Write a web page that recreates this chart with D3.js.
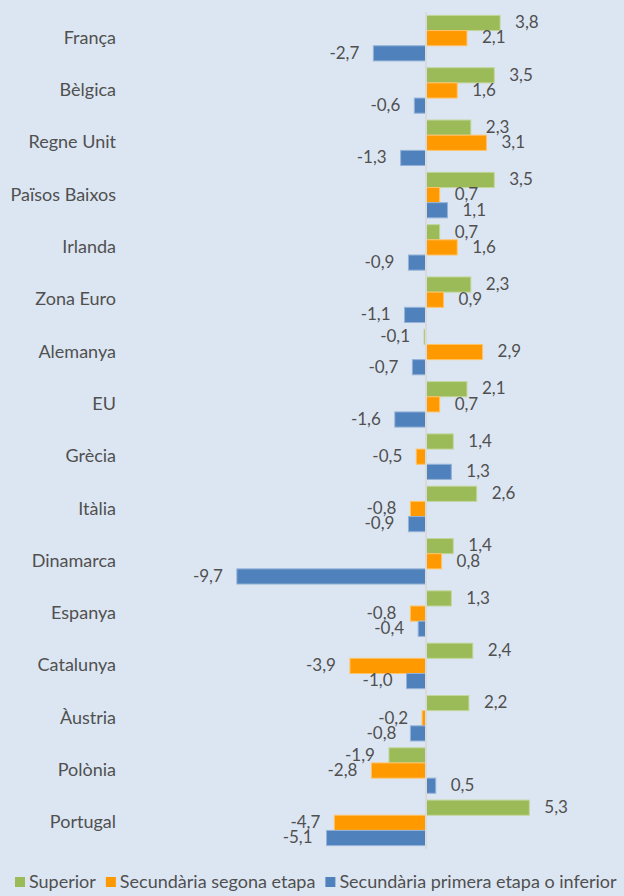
<!DOCTYPE html>
<html>
<head>
<meta charset="utf-8">
<script src="https://cdn.jsdelivr.net/npm/d3@7"></script>
<style>
  body { margin: 0; background: #dce6f2; }
  svg { display: block; font-family: Lato, "Noto Sans", sans-serif; }
</style>
</head>
<body>
<div id="chart"></div>
<script>
let countries = ['França', 'Bèlgica', 'Regne Unit', 'Països Baixos', 'Irlanda', 'Zona Euro', 'Alemanya', 'EU', 'Grècia', 'Itàlia', 'Dinamarca', 'Espanya', 'Catalunya', 'Àustria', 'Polònia', 'Portugal']
let series = ['Superior', 'Secundària segona etapa', 'Secundària primera etapa o inferior']
let superior = [3.8, 3.5, 2.3, 3.5, 0.7, 2.3, -0.1, 2.1, 1.4, 2.6, 1.4, 1.3, 2.4, 2.2, -1.9, 5.3]
let segona = [2.1, 1.6, 3.1, 0.7, 1.6, 0.9, 2.9, 0.7, -0.5, -0.8, 0.8, -0.8, -3.9, -0.2, -2.8, -4.7]
let primera = [-2.7, -0.6, -1.3, 1.1, -0.9, -1.1, -0.7, -1.6, 1.3, -0.9, -9.7, -0.4, -1.0, -0.8, 0.5, -5.1]

let colors = ['#9bbb59', '#ff9900', '#4f81bd']
let strokes = ['#c3d69b', '#ffc266', '#95b3d7']
let textColor = '#505050'

let width = 624
let height = 896

let data = []
countries.forEach((c, i) => {
  [superior, segona, primera].forEach((arr, j) => {
    data.push({ country: c, s: j, v: arr[i] })
  })
})

let svg = d3.select('#chart')
  .append('svg')
  .attr('width', width)
  .attr('height', height)

let xScale = d3.scaleLinear()
  .domain([-10, 10])
  .range([231, 621])

let yScale = d3.scaleBand()
  .domain(countries)
  .range([12, 849])
  .paddingInner(0.13)
  .paddingOuter(0.065)

let sScale = d3.scaleBand()
  .domain([0, 1, 2])
  .range([0, yScale.bandwidth()])

let fmt = v => d3.format('.1f')(v).replace('.', ',').replace('−', '-')

// noms dels països, alineats a la dreta
svg.selectAll('text.cat')
  .data(countries)
  .enter()
  .append('text')
  .attr('class', 'cat')
  .attr('x', 116)
  .attr('y', d => yScale(d) + yScale.bandwidth() / 2 + 1)
  .attr('text-anchor', 'end')
  .attr('dominant-baseline', 'middle')
  .attr('font-size', 18)
  .attr('fill', textColor)
  .text(d => d)

// barres
svg.selectAll('rect.bar')
  .data(data)
  .enter()
  .append('rect')
  .attr('class', 'bar')
  .attr('x', d => Math.min(xScale(0), xScale(d.v)))
  .attr('y', d => yScale(d.country) + sScale(d.s))
  .attr('width', d => Math.abs(xScale(d.v) - xScale(0)))
  .attr('height', sScale.bandwidth())
  .attr('fill', d => colors[d.s])
  .attr('stroke', d => strokes[d.s])
  .attr('stroke-width', 1)

// eix del zero
svg.append('line')
  .attr('x1', xScale(0))
  .attr('x2', xScale(0))
  .attr('y1', 12)
  .attr('y2', 849)
  .attr('stroke', '#d9d9d9')
  .attr('stroke-width', 2)

// etiquetes de valor
svg.selectAll('text.val')
  .data(data)
  .enter()
  .append('text')
  .attr('class', 'val')
  .attr('x', d => d.v >= 0 ? xScale(d.v) + 15 : xScale(d.v) - 14)
  .attr('y', d => yScale(d.country) + sScale(d.s) + sScale.bandwidth() / 2 + 1)
  .attr('text-anchor', d => d.v >= 0 ? 'start' : 'end')
  .attr('dominant-baseline', 'middle')
  .attr('font-size', 17)
  .attr('fill', textColor)
  .text(d => fmt(d.v))

// llegenda
let legend = svg.append('g')
  .attr('transform', 'translate(15, 886)')
let lx = 0
series.forEach((s, i) => {
  let g = legend.append('g').attr('transform', 'translate(' + lx + ', 0)')
  g.append('rect')
    .attr('x', 0)
    .attr('y', -9)
    .attr('width', 10)
    .attr('height', 10)
    .attr('fill', colors[i])
  let t = g.append('text')
    .attr('x', 14)
    .attr('y', -3)
    .attr('dominant-baseline', 'middle')
    .attr('font-size', 18)
    .attr('fill', textColor)
    .text(s)
  lx += 14 + t.node().getComputedTextLength() + 10
})
</script>
</body>
</html>
